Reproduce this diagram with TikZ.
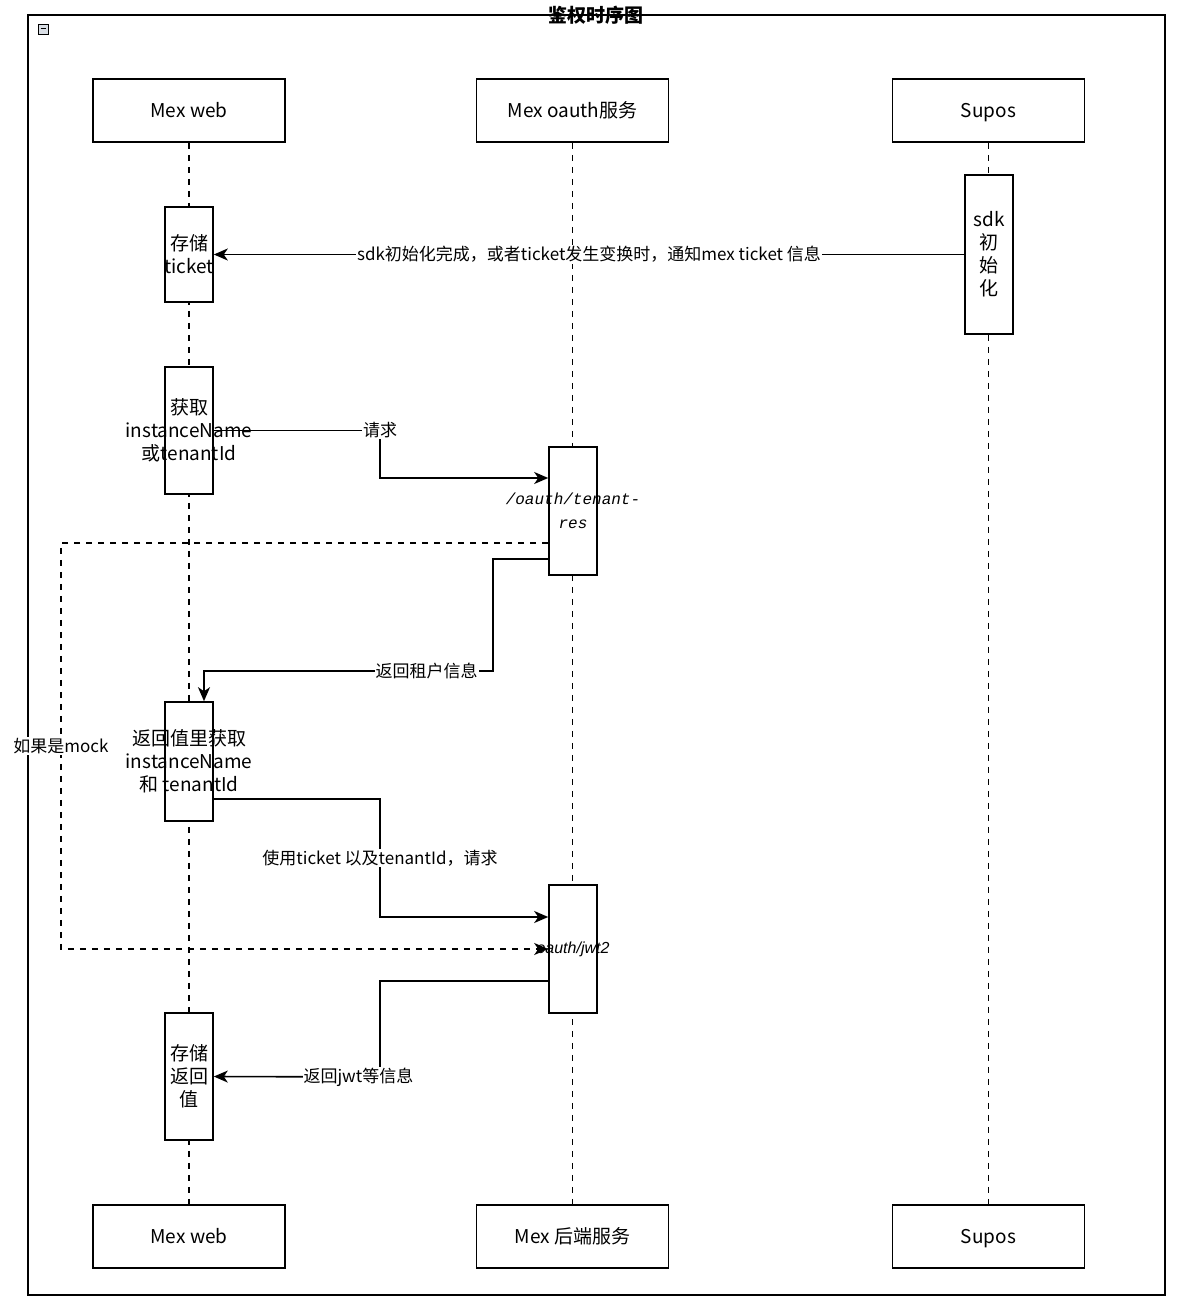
\documentclass[tikz,border=0pt]{standalone}
\usepackage{fontspec}
\setmainfont{Noto Sans CJK SC}
\newfontfamily\codefont{Liberation Mono}
\newfontfamily\pathfont{Liberation Sans}
\usetikzlibrary{arrows.meta}
\definecolor{iconblue}{rgb}{.85,.87,.9}

\begin{document}
\begin{tikzpicture}[x=1pt,y=-1pt,line width=1.6pt,
    font=\fontsize{19}{23}\selectfont,
    actor/.style={draw,minimum width=192pt,minimum height=63pt,inner sep=0pt,text height=16pt,text depth=2pt},
    act/.style={draw,fill=white,minimum width=48pt,inner sep=0pt},
    life/.style={dash pattern=on 6pt off 6pt},
    msg/.style={-{Stealth[length=14pt,width=12pt,inset=4pt]}},
    lbl/.style={fill=white,inner sep=1pt,font=\fontsize{17}{20}\selectfont}]
      \useasboundingbox (0,0) rectangle (1186,1306);
      \draw (28,15) rectangle (1165,1295);
      \node[font=\fontsize{19}{23}\selectfont\bfseries] (title) at (596,15) {鉴权时序图};
      \draw[line width=.8pt,fill=iconblue] (38,24) rectangle (48,34);
      \draw[line width=1pt] (40.5,29) -- (45.5,29);
      \node[actor] (webtop) at (189,110.5) {Mex web};
      \node[actor] (oauthtop) at (572.5,110.5) {Mex oauth服务};
      \node[actor] (supostop) at (988.5,110.5) {Supos};
      \node[actor] (webbot) at (189,1236.5) {Mex web};
      \node[actor] (oauthbot) at (572.5,1236.5) {Mex 后端服务};
      \node[actor] (supbot) at (988.5,1236.5) {Supos};
      \draw[life] (webtop) -- (webbot);
      \draw[life] (oauthtop) -- (oauthbot);
      \draw[life] (supostop) -- (supbot);
      \node[act,minimum height=95pt,label={[align=center]center:存储\\ticket}] (store1) at (189,254.5) {};
      \node[act,minimum height=159pt,label={[align=center]center:sdk\\初\\始\\化}] (sdk) at (989,254.5) {};
      \node[act,minimum height=127pt,label={[align=center]center:获取\\instanceName\\或tenantId}] (getid) at (189,430.5) {};
      \node[act,minimum height=128pt,label={[align=center,font=\fontsize{16}{24}\selectfont\codefont\itshape]center:/oauth/tenant-\\res}] (tres) at (573,511) {};
      \node[act,minimum height=119pt,label={[align=center]center:返回值里获取\\instanceName\\和 tenantId}] (ret) at (189,761.5) {};
      \node[act,minimum height=128pt,label={[font=\fontsize{16}{20}\selectfont\pathfont\itshape]center:oauth/jwt2}] (jwt) at (573,949) {};
      \node[act,minimum height=127pt,label={[align=center]center:存储\\返回\\值}] (store2) at (189,1076.5) {};
      \draw[msg] (sdk.west) -- node[lbl]{sdk初始化完成，或者ticket发生变换时，通知mex ticket 信息} (store1.east);
      \draw[msg] (getid.east) -- (380,430.5) node[lbl]{请求} |- ([yshift=33pt]tres.west);
      \draw[msg,life] ([yshift=-32pt]tres.west) -- (61,543) -- node[lbl]{如果是mock} (61,949) -- (jwt.west);
      \draw[msg] ([yshift=-48pt]tres.west) -- (493,559) -- (493,671) -- node[lbl,pos=.23]{返回租户信息} (204,671) -- ([xshift=15pt]ret.north);
      \draw[msg] ([yshift=-37.5pt]ret.east) -- (380,799) -- node[lbl]{使用ticket 以及tenantId，请求} (380,917) -- ([yshift=32pt]jwt.west);
      \draw[msg] ([yshift=-32pt]jwt.west) -- (380,981) -- (380,1077) -- node[lbl,pos=.13]{返回jwt等信息} (store2.east);
    \end{tikzpicture}
\end{document}
